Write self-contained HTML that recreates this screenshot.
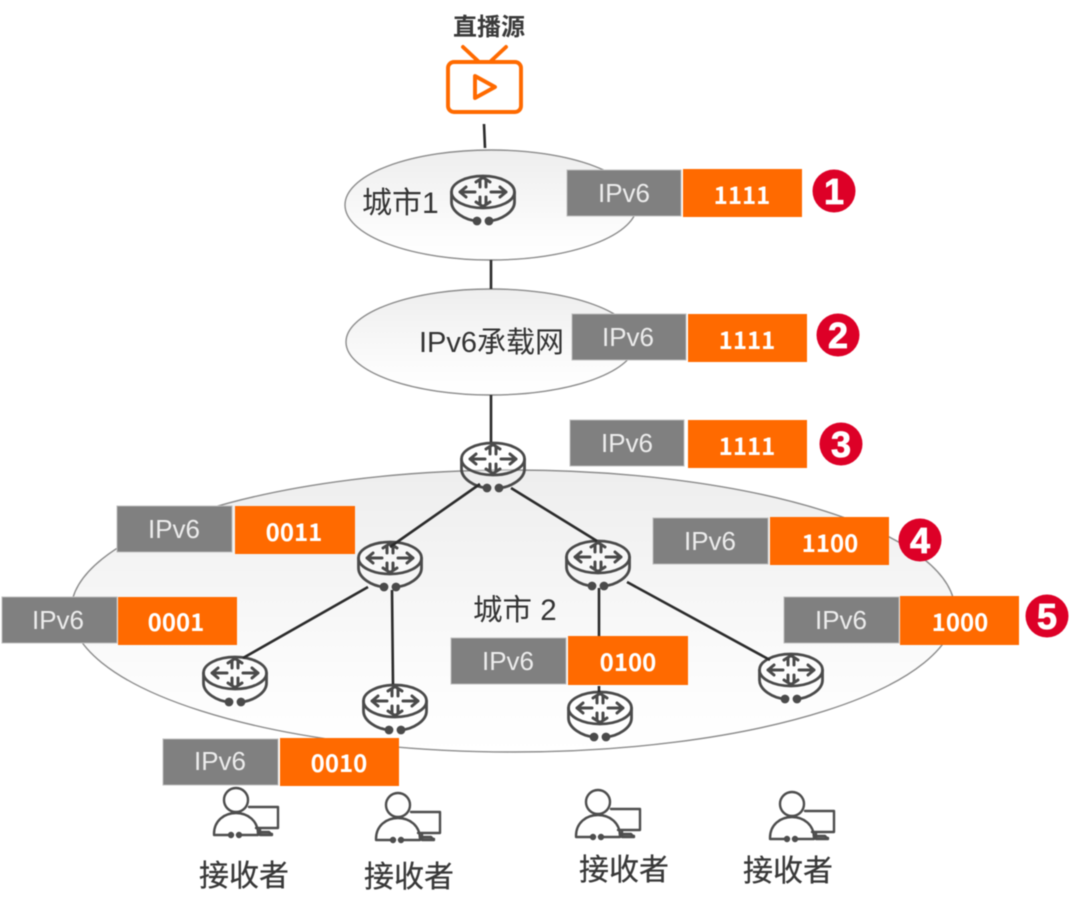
<!DOCTYPE html>
<html><head><meta charset="utf-8"><style>
html,body{margin:0;padding:0;background:#fff}
svg{display:block;filter:blur(.45px)}
text{font-family:"Liberation Sans","Noto Sans CJK SC",sans-serif}
.g{font-size:26px;fill:#ececec;text-anchor:middle;transform:translateY(-1px)}
.o{font-family:"Noto Sans CJK SC","Liberation Sans",sans-serif;font-size:24px;font-weight:700;fill:#fff;text-anchor:middle;transform:translateY(-1px)}
.l{fill:#333}
.r{font-size:30px;fill:#383838;text-anchor:middle;stroke:#383838;stroke-width:.25}
.n{font-family:"Liberation Sans",sans-serif;font-size:36px;font-weight:700;fill:#fff;stroke:#fff;stroke-width:.8;text-anchor:middle}
.gr{fill:#808080;stroke:#bdbdbd;stroke-width:1}
.or{fill:#ff6a00}
.ln{stroke:#2b2b2b;stroke-width:2.6;fill:none}
</style></head><body>
<svg width="1080" height="913" viewBox="0 0 1080 913" xmlns="http://www.w3.org/2000/svg">
<defs>
<linearGradient id="e" x1="0" y1="0" x2="0" y2="1"><stop offset="0" stop-color="#eeeeee"/><stop offset=".8" stop-color="#fdfdfd"/><stop offset="1" stop-color="#ffffff"/></linearGradient>
<g id="rt" fill="none" stroke="#4a4a4a" stroke-width="2.8" stroke-linecap="round" stroke-linejoin="round">
<ellipse cx="0" cy="0" rx="31.5" ry="16" fill="#fff" fill-opacity=".35"/>
<path d="M-31.5 0V10C-31.5 20-18 28-6 29"/>
<path d="M31.5 0V10C31.5 20 18 28 6 29"/>
<circle cx="-6" cy="29" r="3" fill="#4a4a4a"/><circle cx="6" cy="29" r="3" fill="#4a4a4a"/>
<path d="M-23 0L-17 -5M-23 0L-17 5M-23 0H-8M23 0L17 -5M23 0L17 5M23 0H8M-3 -5V-12M-7 -10L0 -14.500L7 -10M3 -12V-5M3 5V12M-7 10L0 14.500L7 10M-3 12V5" stroke-width="3"/>
</g>
<g id="pn" fill="none" stroke="#4d4d4d" stroke-width="2.4" stroke-linecap="round" stroke-linejoin="round">
<circle cx="0" cy="0" r="12"/>
<path d="M-22 34C-22 21-12 13 0 13C12 13 22 21 22 34"/>
<path d="M-22 35H-7M1 35H22"/><circle cx="-5" cy="35" r="2" fill="#4d4d4d"/><circle cx="3" cy="35" r="2" fill="#4d4d4d"/>
<path d="M13 7H42V28H20M24 28V34M36 34H24"/>
<path d="M24 32H33L36 35H24Z" fill="#777"/>
</g>
</defs>

<!-- ellipses -->
<ellipse cx="491" cy="205" rx="146" ry="55" fill="url(#e)" stroke="#8c8c8c" stroke-width="1.4"/>
<ellipse cx="491" cy="342" rx="145" ry="53" fill="url(#e)" stroke="#8c8c8c" stroke-width="1.4"/>
<ellipse cx="513" cy="611" rx="442" ry="141" fill="url(#e)" stroke="#8c8c8c" stroke-width="1.4"/>

<!-- TV -->
<text x="489" y="35" text-anchor="middle" style="font-size:24px;font-weight:700;fill:#3a3a3a">直播源</text>
<g fill="none" stroke="#ff6a00" stroke-width="3.9" stroke-linecap="round" stroke-linejoin="round">
<rect x="448" y="62" width="73" height="50" rx="6"/>
<path d="M463 47L478 61M506 47L491 61"/>
<path d="M475 76V98L495 87Z"/>
</g>

<!-- routers -->
<use href="#rt" x="483" y="192"/>
<use href="#rt" x="493" y="459"/>
<use href="#rt" x="390" y="558"/>
<use href="#rt" x="598" y="557"/>
<use href="#rt" x="235" y="673"/>
<use href="#rt" x="395" y="701"/>
<use href="#rt" x="600" y="708"/>
<use href="#rt" x="791" y="670"/>

<!-- connectors -->
<path class="ln" d="M484 124L485 148M491 260V289M491 395V442M480 484L390 547M511 488L597 541M368 587L243 658M392 590L393 684M599 588V636M599 686V692M627 582L770 660"/>

<!-- persons -->
<use href="#pn" x="236" y="800"/>
<use href="#pn" x="398" y="805"/>
<use href="#pn" x="598" y="802"/>
<use href="#pn" x="792" y="804"/>
<text class="r" x="244" y="886">接收者</text>
<text class="r" x="409" y="887">接收者</text>
<text class="r" x="624" y="880">接收者</text>
<text class="r" x="788" y="881">接收者</text>

<!-- labels -->
<text class="l" x="362" y="213" style="font-size:30px">城市1</text>
<text class="l" x="419" y="352" style="font-size:29px">IPv6承载网</text>
<text class="l" x="473" y="620" style="font-size:29.500px">城市 2</text>

<!-- tags -->
<rect class="gr" x="567" y="170" width="114" height="46"/><rect class="or" x="683" y="169" width="119" height="48"/>
<text class="g" x="624" y="203">IPv6</text><text class="o" x="742" y="205">1111</text>
<rect class="gr" x="572" y="314" width="114" height="46"/><rect class="or" x="688" y="314" width="119" height="48"/>
<text class="g" x="628" y="347">IPv6</text><text class="o" x="747" y="350">1111</text>
<rect class="gr" x="570" y="420" width="114" height="46"/><rect class="or" x="688" y="420" width="119" height="48"/>
<text class="g" x="627" y="453">IPv6</text><text class="o" x="747" y="456">1111</text>
<rect class="gr" x="117" y="506" width="115" height="46"/><rect class="or" x="235" y="506" width="120" height="48"/>
<text class="g" x="174" y="539">IPv6</text><text class="o" x="294" y="542">0011</text>
<rect class="gr" x="653" y="518" width="115" height="46"/><rect class="or" x="770" y="517" width="119" height="48"/>
<text class="g" x="710" y="551">IPv6</text><text class="o" x="830" y="553">1100</text>
<rect class="gr" x="2" y="597" width="115" height="46"/><rect class="or" x="118" y="597" width="119" height="48"/>
<text class="g" x="58" y="630">IPv6</text><text class="o" x="176" y="632">0001</text>
<rect class="gr" x="784" y="597" width="115" height="46"/><rect class="or" x="900" y="596" width="119" height="49"/>
<text class="g" x="841" y="630">IPv6</text><text class="o" x="960" y="632">1000</text>
<rect class="gr" x="451" y="638" width="115" height="46"/><rect class="or" x="568" y="636" width="120" height="49"/>
<text class="g" x="508" y="671">IPv6</text><text class="o" x="628" y="672">0100</text>
<rect class="gr" x="163" y="739" width="115" height="46"/><rect class="or" x="280" y="738" width="119" height="48"/>
<text class="g" x="220" y="771">IPv6</text><text class="o" x="339" y="773">0010</text>

<!-- number badges -->
<g fill="#dd0027">
<circle cx="834" cy="191" r="21.500"/><circle cx="838" cy="335" r="21.500"/><circle cx="841" cy="444" r="21.500"/><circle cx="920" cy="540" r="21.500"/><circle cx="1047" cy="616" r="21.500"/>
</g>
<text class="n" x="834" y="204">1</text>
<text class="n" x="838" y="348">2</text>
<text class="n" x="841" y="457">3</text>
<text class="n" x="920" y="553">4</text>
<text class="n" x="1047" y="629">5</text>
</svg>
</body></html>
